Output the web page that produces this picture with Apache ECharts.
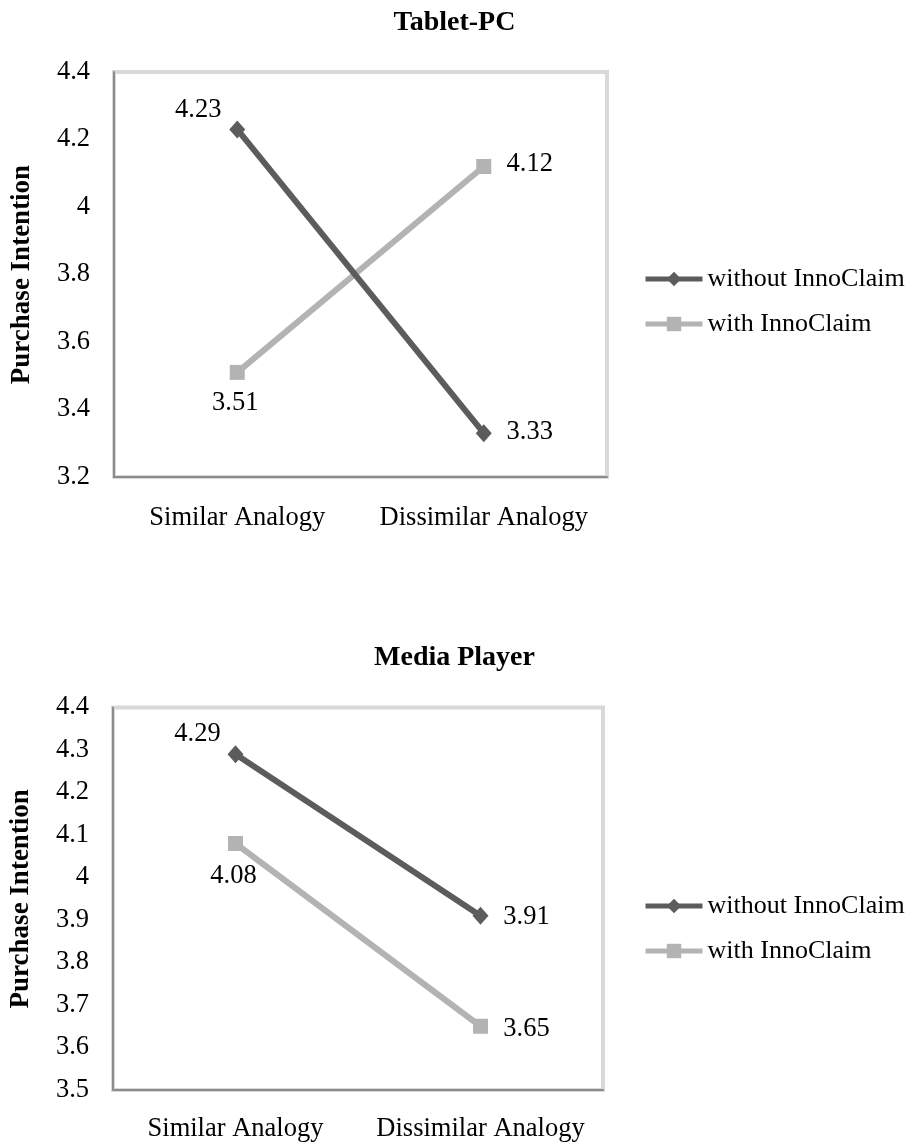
<!DOCTYPE html>
<html>
<head>
<meta charset="utf-8">
<script src="https://cdn.jsdelivr.net/npm/echarts@6/dist/echarts.min.js"></script>
<style>
  html, body { margin: 0; padding: 0; background: #ffffff; }
  #chart { width: 909px; height: 1144px; }
</style>
</head>
<body>
<div id="chart"></div>
<script>
// ---- Data ----
const categories = ['Similar Analogy', 'Dissimilar Analogy'];
const seriesNames = ['without InnoClaim', 'with InnoClaim'];
const chartTitles = ['Tablet-PC', 'Media Player'];
const yAxisName = 'Purchase Intention';
const tabletWithout = [4.23, 3.33];
const tabletWith = [3.51, 4.12];
const mediaWithout = [4.29, 3.91];
const mediaWith = [4.08, 3.65];
const tabletAxis = { min: 3.2, max: 4.4, interval: 0.2 };
const mediaAxis = { min: 3.5, max: 4.4, interval: 0.1 };

// ---- Styling (not data) ----
const FONT = '"Liberation Serif", "Times New Roman", serif';
const FS = 26.5;
const DARK = '#5c5c5c';
const LIGHT = '#b3b3b3';

// label offsets relative to each marker centre
const labelOffsets = {
  tabletWithout: [[-39, -19], [46, -1]],
  tabletWith: [[-2, 31], [46, -2]],
  mediaWithout: [[-38, -20], [46, 1]],
  mediaWith: [[-2, 33], [46, 3]]
};

function buildData(values, offsets) {
  return values.map((v, i) => ({
    value: v,
    label: { position: 'inside', offset: offsets[i] }
  }));
}

function lineSeries(name, values, offsets, idx, dark) {
  return {
    name: name,
    type: 'line',
    xAxisIndex: idx,
    yAxisIndex: idx,
    data: buildData(values, offsets),
    symbol: dark ? 'diamond' : 'rect',
    symbolSize: dark ? [16, 18] : 15,
    lineStyle: { color: dark ? DARK : LIGHT, width: 6 },
    itemStyle: { color: dark ? DARK : LIGHT },
    label: {
      show: true,
      fontFamily: FONT,
      fontSize: FS,
      color: '#000000',
      formatter: p => String(p.value)
    },
    z: dark ? 3 : 2,
    animation: false
  };
}

function yAxisCfg(idx, ax) {
  return {
    type: 'value',
    gridIndex: idx,
    min: ax.min,
    max: ax.max,
    interval: ax.interval,
    name: yAxisName,
    nameLocation: 'middle',
    nameRotate: 90,
    nameGap: 78,
    nameTextStyle: { fontFamily: FONT, fontSize: 27, fontWeight: 'bold', color: '#000000' },
    axisLine: { show: true, lineStyle: { color: '#8c8c8c', width: 2 } },
    axisTick: { show: false },
    splitLine: { show: false },
    axisLabel: { fontFamily: FONT, fontSize: FS, color: '#000000', margin: 24 }
  };
}

function xAxisCfg(idx, margin) {
  return {
    type: 'category',
    gridIndex: idx,
    data: categories,
    boundaryGap: true,
    axisLine: { show: true, lineStyle: { color: '#8c8c8c', width: 2 } },
    axisTick: { show: false },
    splitLine: { show: false },
    axisLabel: { fontFamily: FONT, fontSize: FS, color: '#000000', margin: margin, interval: 0 }
  };
}

function legendCfg(top) {
  return {
    orient: 'vertical',
    left: 638,
    top: top,
    itemWidth: 57,
    itemHeight: 18,
    itemGap: 15,
    data: seriesNames,
    lineStyle: { width: 5 },
    textStyle: { fontFamily: FONT, fontSize: 26, color: '#000000', lineHeight: 30 }
  };
}

const chart = echarts.init(document.getElementById('chart'), null, { renderer: 'canvas' });
chart.setOption({
  backgroundColor: '#ffffff',
  animation: false,
  title: [
    { text: chartTitles[0], left: 'center', top: 4,
      textStyle: { fontFamily: FONT, fontSize: 28, fontWeight: 'bold', color: '#000000' } },
    { text: chartTitles[1], left: 'center', top: 639,
      textStyle: { fontFamily: FONT, fontSize: 28, fontWeight: 'bold', color: '#000000' } }
  ],
  legend: [legendCfg(259), legendCfg(886)],
  grid: [
    { left: 114, top: 72, width: 493, height: 405, show: true, borderColor: '#d9d9d9', borderWidth: 4, backgroundColor: 'transparent' },
    { left: 110, top: 707.5, width: 493, height: 382.5, show: true, borderColor: '#d9d9d9', borderWidth: 4, backgroundColor: 'transparent' }
  ],
  xAxis: [xAxisCfg(0, 28), xAxisCfg(1, 26)],
  yAxis: [yAxisCfg(0, tabletAxis), yAxisCfg(1, mediaAxis)],
  series: [
    lineSeries(seriesNames[0], tabletWithout, labelOffsets.tabletWithout, 0, true),
    lineSeries(seriesNames[1], tabletWith, labelOffsets.tabletWith, 0, false),
    lineSeries(seriesNames[0], mediaWithout, labelOffsets.mediaWithout, 1, true),
    lineSeries(seriesNames[1], mediaWith, labelOffsets.mediaWith, 1, false)
  ]
});
</script>
</body>
</html>
